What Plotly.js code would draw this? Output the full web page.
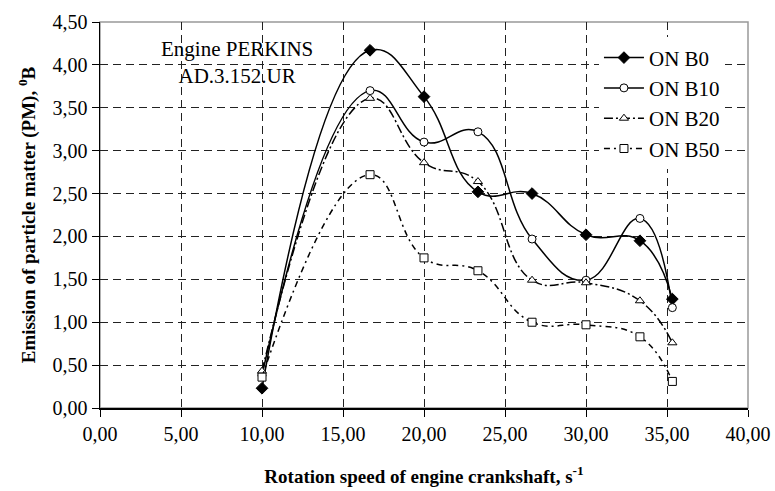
<!DOCTYPE html>
<html>
<head>
<meta charset="utf-8">
<script src="https://cdn.plot.ly/plotly-3.0.1.min.js"></script>
<style>html,body{margin:0;padding:0;background:#fff;}#chart{width:775px;height:491px;}</style>
</head>
<body>
<div id="chart"></div>
<script>
// Rotation speed, s^-1
const speed = [10.00, 16.67, 20.00, 23.33, 26.67, 30.00, 33.33, 35.33];
// Emission of particle matter (PM), °B
const onB0  = [0.23, 4.17, 3.63, 2.52, 2.50, 2.02, 1.95, 1.27];
const onB10 = [0.38, 3.70, 3.10, 3.22, 1.97, 1.49, 2.21, 1.17];
const onB20 = [0.43, 3.61, 2.86, 2.64, 1.49, 1.46, 1.25, 0.76];
const onB50 = [0.36, 2.72, 1.75, 1.60, 1.00, 0.97, 0.83, 0.31];
const seriesNames = ['ON B0', 'ON B10', 'ON B20', 'ON B50'];
const xTickVals = [0, 5, 10, 15, 20, 25, 30, 35, 40];
const yTickVals = [0, 0.5, 1, 1.5, 2, 2.5, 3, 3.5, 4, 4.5];

const serif = 'Liberation Serif';
const ink = '#000';

function tr(name, y, dash, symbol, fill) {
  return {
    x: speed, y: y, name: name, type: 'scatter', mode: 'lines+markers',
    line: {shape: 'spline', smoothing: 1.3, color: '#000', width: 1.5, dash: dash},
    marker: {symbol: symbol, size: symbol.indexOf('diamond') === 0 ? 9 : 8,
             color: fill, line: {color: '#000', width: 1}},
    cliponaxis: false
  };
}

const data = [
  tr(seriesNames[0], onB0, 'solid', 'diamond', '#000'),
  tr(seriesNames[1], onB10, 'solid', 'circle', '#fff'),
  tr(seriesNames[2], onB20, '9px,3px,2px,3px', 'triangle-up', '#fff'),
  tr(seriesNames[3], onB50, '6px,4px,2px,4px', 'square', '#fff')
];

const layout = {
  width: 775, height: 491,
  margin: {l: 100, r: 27, t: 22, b: 83},
  paper_bgcolor: '#fff', plot_bgcolor: '#fff',
  separators: ', ',
  font: {family: serif, color: ink, size: 20},
  showlegend: true,
  legend: {x: 0.77, y: 0.96, xanchor: 'left', yanchor: 'top',
           bgcolor: '#fff', borderwidth: 0, itemwidth: 40,
           font: {family: serif, size: 21, color: ink}},
  xaxis: {
    range: [0, 40], tickvals: xTickVals, tickformat: '.2f',
    showline: true, linecolor: '#000', linewidth: 1.5,
    ticks: 'outside', ticklen: 7, tickcolor: '#000',
    showgrid: true, gridcolor: '#222', griddash: '8px,5px', gridwidth: 1,
    zeroline: false,
    tickfont: {family: serif, size: 20, color: ink},
    title: {text: 'Rotation speed of engine crankshaft, s<sup>-1</sup>',
            font: {family: serif, size: 19, weight: 'bold', color: ink}, standoff: 26}
  },
  yaxis: {
    range: [0, 4.5], tickvals: yTickVals, tickformat: '.2f',
    showline: true, linecolor: '#000', linewidth: 1.5,
    ticks: 'outside', ticklen: 7, tickcolor: '#000',
    showgrid: true, gridcolor: '#222', griddash: '8px,5px', gridwidth: 1,
    zeroline: false,
    tickfont: {family: serif, size: 20, color: ink},
    title: {text: 'Emission of particle matter (PM), <sup>0</sup>B',
            font: {family: serif, size: 19, weight: 'bold', color: ink}, standoff: 12}
  },
  shapes: [{type: 'rect', xref: 'paper', yref: 'paper', x0: 0, x1: 1, y0: 0, y1: 1,
            line: {color: '#999', width: 1.5}, layer: 'below'}],
  annotations: [{xref: 'paper', yref: 'paper', x: 0.211, y: 0.896,
                 xanchor: 'center', yanchor: 'middle',
                 text: 'Engine PERKINS<br>AD.3.152.UR', showarrow: false,
                 align: 'center', font: {family: serif, size: 21, color: ink}}]
};

Plotly.newPlot('chart', data, layout, {displayModeBar: false, staticPlot: true});
</script>
</body>
</html>
